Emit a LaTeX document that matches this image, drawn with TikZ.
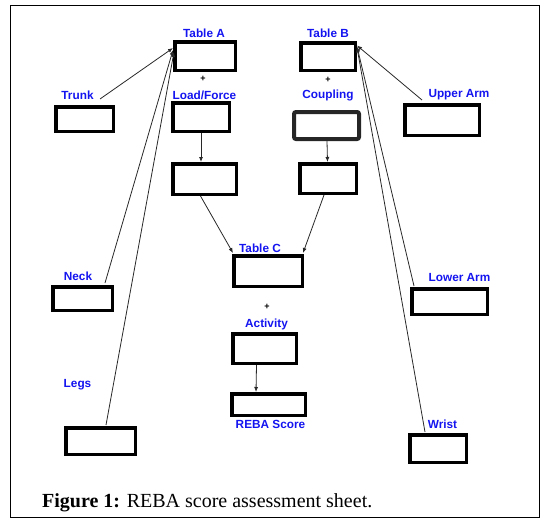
\documentclass[tikz,border=0pt]{standalone}
\usepackage{fontspec}
\setmainfont{Liberation Serif}
\newfontfamily\labfont{Liberation Sans}
\usetikzlibrary{arrows.meta,calc}
\definecolor{labblue}{RGB}{20,20,240}
\definecolor{linegray}{RGB}{40,40,40}
\tikzset{
  scorebox/.style={draw=black,line width=3.5pt,fill=white,inner sep=0pt,
    minimum width=#1},
  lab/.style={text=labblue,font=\labfont\bfseries\fontsize{11.8}{13}\selectfont,inner sep=0pt},
  plus/.style={font=\labfont\bfseries\fontsize{9}{10}\selectfont,inner sep=0pt},
  conn/.style={draw=linegray,line width=0.8pt},
  arr/.style={conn,-{Latex[length=5pt,width=4pt]}},
}
\begin{document}
\begin{tikzpicture}[x=1pt,y=-1pt]
\useasboundingbox (0,0) rectangle (548,522);
\draw[line width=1pt] (10,5) rectangle (539,517);
% boxes
\node[scorebox=60.5pt,minimum height=28.5pt] (ta) at (205,56) {};
\node[scorebox=56.5pt,minimum height=28.5pt] (lf) at (201,117) {};
\node[scorebox=63.5pt,minimum height=30.5pt] (lfb) at (204.5,179) {};
\node[scorebox=57.5pt,minimum height=24.5pt] (trunk) at (84.5,119) {};
\node[scorebox=54.5pt,minimum height=27.5pt] (tb) at (328,56.5) {};
\node[draw=black!85,line width=4pt,fill=white,rounded corners=2pt,inner sep=0pt,minimum width=65pt,minimum height=27pt] (cp) at (326.5,125.5) {};
\node[scorebox=56.5pt,minimum height=29.5pt] (cpb) at (328,178.5) {};
\node[scorebox=74.5pt,minimum height=30.5pt] (ua) at (442,120) {};
\node[scorebox=68.5pt,minimum height=30.5pt] (tc) at (268,271) {};
\node[scorebox=63.5pt,minimum height=29.5pt] (ac) at (264.5,348.5) {};
\node[scorebox=73.5pt,minimum height=21.5pt] (rs) at (268.5,404.5) {};
\node[scorebox=59.5pt,minimum height=23.5pt] (neck) at (82.5,298.5) {};
\node[scorebox=69.5pt,minimum height=26.5pt] (legs) at (100.5,441) {};
\node[scorebox=75.5pt,minimum height=25.5pt] (la) at (449.5,301.5) {};
\node[scorebox=56.5pt,minimum height=27.5pt] (wr) at (438,448.5) {};
% labels
\node[lab] (lta) at (204,33) {Table A};
\node[lab] (llf) at (204.5,95) {Load/Force};
\node[lab] (ltrunk) at (77.5,95) {Trunk};
\node[lab] (ltb) at (328,33) {Table B};
\node[lab] (lcp) at (328,95) {Coupling};
\node[lab] (lua) at (459,95) {Upper Arm};
\node[lab] (ltc) at (260,248) {Table C};
\node[lab] (lac) at (266.5,324) {Activity};
\node[lab] (lrs) at (270.5,424) {REBA Score};
\node[lab] (lneck) at (78,276) {Neck};
\node[lab] (llegs) at (77.5,385) {Legs};
\node[lab] (lla) at (459.5,277) {Lower Arm};
\node[lab] (lwr) at (442.5,424) {Wrist};
\node[plus] (p1) at (203,79) {+};
\node[plus] (p2) at (328,80) {+};
\node[plus] (p3) at (267,307) {+};
% connector free ends
\coordinate (trunkend) at ($(trunk.north east)+(-15,-6)$);
\coordinate (neckend) at ($(neck.north east)+(-9,-2)$);
\coordinate (legsend) at ($(legs.north)+(5.5,-1)$);
\coordinate (uaend) at ($(ua.north)+(-20,-3)$);
\coordinate (laend) at ($(la.north west)+(4,-1)$);
\coordinate (wrend) at ($(wr.north west)+(17,-1)$);
% connectors
\draw[arr] (trunkend) -- ($(ta.west)+(0,-8)$);
\draw[arr] (neckend) -- ($(ta.west)+(0,-6)$);
\draw[arr] (legsend) -- ($(ta.west)+(1,-4)$);
\draw[arr] (uaend) -- ($(tb.east)+(0,-11)$);
\draw[arr] (laend) -- ($(tb.east)+(0,-10)$);
\draw[arr] (wrend) -- ($(tb.east)+(0,-9)$);
\draw[arr] (lf.south) -- (lfb.north -| lf.south);
\draw[arr] ($(cp.south)+(0.5,0)$) -- ($(cpb.north)+(-0.5,0)$);
\draw[arr] ($(lfb.south)+(-4,0)$) -- ($(tc.north west)+(1,-1)$);
\draw[arr] ($(cpb.south)+(-4,0)$) -- ($(tc.north east)+(-1,-1)$);
\draw[arr] ($(ac.south)+(-8,0)$) -- ($(rs.north)+(-12.5,0)$);
% caption
\node[anchor=base west,inner sep=0pt,font=\fontsize{20}{22}\selectfont] (cap) at (42,507) {\textbf{Figure 1:} REBA score assessment sheet.};
\end{tikzpicture}
\end{document}
